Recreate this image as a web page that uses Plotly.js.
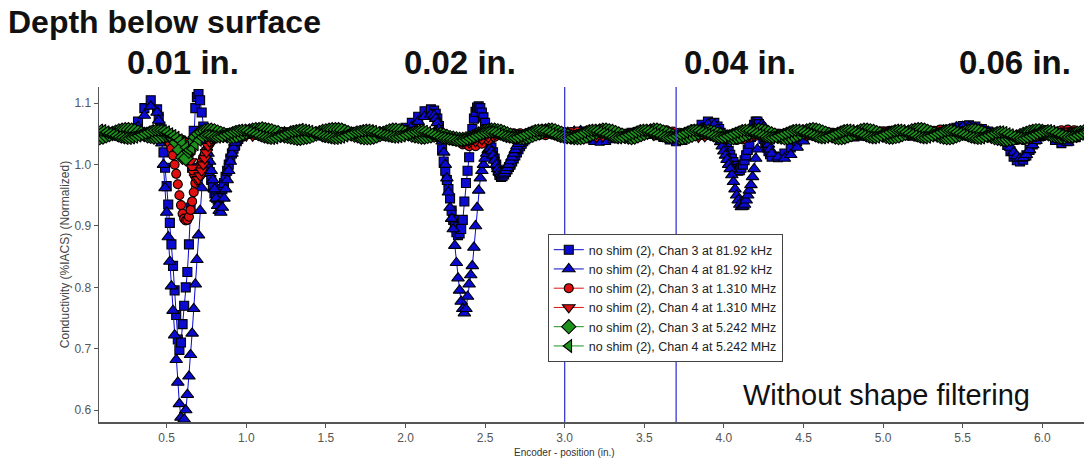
<!DOCTYPE html>
<html>
<head>
<meta charset="utf-8">
<script src="https://cdn.plot.ly/plotly-3.0.1.min.js"></script>
<style>html,body{margin:0;padding:0;background:#fff;}#chart{width:1084px;height:466px;}</style>
</head>
<body>
<div id="chart"></div>
<script>
// Encoder positions (in.) for the 81.92 kHz channels (denser sampling in the dips)
const xBlue = [
0.08,0.12,0.16,0.2,0.24,0.28,0.32,0.36,0.4,0.44,
0.45,0.46,0.47,0.48,0.49,0.5,0.51,0.52,0.53,0.54,0.55,0.56,0.57,0.58,0.59,0.6,0.61,0.62,0.63,0.64,0.65,0.66,0.67,0.68,0.69,0.7,0.71,0.72,0.73,0.74,0.75,0.76,0.77,0.78,0.79,0.8,0.81,0.82,0.83,0.84,0.85,0.86,0.87,0.88,0.89,0.9,0.91,0.92,0.93,0.94,0.95,0.96,0.97,0.98,0.99,1.0,
1.04,1.08,1.12,1.16,1.2,1.24,1.28,1.32,1.36,1.4,1.44,1.48,1.52,1.56,1.6,1.64,1.68,1.72,1.76,1.8,1.84,1.88,1.92,1.96,2.0,2.04,2.08,2.12,2.16,
2.18,2.19,2.2,2.21,2.22,2.23,2.24,2.25,2.26,2.27,2.28,2.29,2.3,2.31,2.32,2.33,2.34,2.35,2.36,2.37,2.38,2.39,2.4,2.41,2.42,2.43,2.44,2.45,2.46,2.47,2.48,2.49,2.5,2.51,2.52,2.53,2.54,2.55,2.56,2.57,2.58,2.59,2.6,2.61,2.62,2.63,2.64,2.65,2.66,2.67,2.68,2.69,2.7,2.71,2.72,2.73,2.74,2.75,2.76,2.77,2.78,
2.82,2.86,2.9,2.94,2.98,3.02,3.06,3.1,3.14,3.18,3.22,3.26,3.3,3.34,3.38,3.42,3.46,3.5,3.54,3.58,3.62,3.66,3.7,3.74,3.78,3.82,3.86,3.9,3.94,
3.96,3.97,3.98,3.99,4.0,4.01,4.02,4.03,4.04,4.05,4.06,4.07,4.08,4.09,4.1,4.11,4.12,4.13,4.14,4.15,4.16,4.17,4.18,4.19,4.2,4.21,4.22,4.23,4.24,4.25,4.26,4.27,4.28,4.29,4.3,
4.34,4.38,4.42,4.46,4.5,4.54,4.58,4.62,4.66,4.7,4.74,4.78,4.82,4.86,4.9,4.94,4.98,5.02,5.06,5.1,5.14,5.18,5.22,5.26,5.3,5.34,5.38,5.42,5.46,5.5,5.54,5.58,5.62,5.66,5.7,5.74,
5.76,5.78,5.8,5.82,5.84,5.86,5.88,5.9,5.92,5.94,5.96,5.98,6.0,
6.04,6.08,6.12,6.16,6.2,6.24,6.28
];

// Encoder positions (in.) for the 1.310 MHz channels
const xRed = [
0.08,0.12,0.16,0.2,0.24,0.28,0.32,0.36,0.4,0.44,
0.45,0.46,0.47,0.48,0.49,0.5,0.51,0.52,0.53,0.54,0.55,0.56,0.57,0.58,0.59,0.6,0.61,0.62,0.63,0.64,0.65,0.66,0.67,0.68,0.69,0.7,0.71,0.72,0.73,0.74,0.75,0.76,0.77,0.78,0.79,0.8,0.81,0.82,0.83,0.84,0.85,0.86,0.87,0.88,0.89,0.9,
0.92,0.96,1.0,
1.04,1.08,1.12,1.16,1.2,1.24,1.28,1.32,1.36,1.4,
1.44,1.48,1.52,1.56,1.6,1.64,1.68,1.72,1.76,1.8,
1.84,1.88,1.92,1.96,2.0,2.04,2.08,2.12,2.16,2.2,
2.24,2.28,2.32,2.36,2.4,2.44,2.48,2.52,2.56,2.6,
2.64,2.68,2.72,2.76,2.8,2.84,2.88,2.92,2.96,3.0,
3.04,3.08,3.12,3.16,3.2,3.24,3.28,3.32,3.36,3.4,
3.44,3.48,3.52,3.56,3.6,3.64,3.68,3.72,3.76,3.8,
3.84,3.88,3.92,3.96,4.0,4.04,4.08,4.12,4.16,4.2,
4.24,4.28,4.32,4.36,4.4,4.44,4.48,4.52,4.56,4.6,
4.64,4.68,4.72,4.76,4.8,4.84,4.88,4.92,4.96,5.0,
5.04,5.08,5.12,5.16,5.2,5.24,5.28,5.32,5.36,5.4,
5.44,5.48,5.52,5.56,5.6,5.64,5.68,5.72,5.76,5.8,
5.84,5.88,5.92,5.96,6.0,6.04,6.08,6.12,6.16,6.2,
6.24,6.28
];

// Encoder positions (in.) for the 5.242 MHz channels
const xGreen = [
0.08,0.1,0.12,0.14,0.16,0.18,0.2,0.22,0.24,0.26,
0.28,0.3,0.32,0.34,0.36,0.38,0.4,0.42,0.44,0.46,
0.48,0.5,0.52,0.54,0.56,0.58,0.6,0.62,0.64,0.66,
0.68,0.7,0.72,0.74,0.76,0.78,0.8,0.82,0.84,0.86,
0.88,0.9,0.92,0.94,0.96,0.98,1.0,1.02,1.04,1.06,
1.08,1.1,1.12,1.14,1.16,1.18,1.2,1.22,1.24,1.26,
1.28,1.3,1.32,1.34,1.36,1.38,1.4,1.42,1.44,1.46,
1.48,1.5,1.52,1.54,1.56,1.58,1.6,1.62,1.64,1.66,
1.68,1.7,1.72,1.74,1.76,1.78,1.8,1.82,1.84,1.86,
1.88,1.9,1.92,1.94,1.96,1.98,2.0,2.02,2.04,2.06,
2.08,2.1,2.12,2.14,2.16,2.18,2.2,2.22,2.24,2.26,
2.28,2.3,2.32,2.34,2.36,2.38,2.4,2.42,2.44,2.46,
2.48,2.5,2.52,2.54,2.56,2.58,2.6,2.62,2.64,2.66,
2.68,2.7,2.72,2.74,2.76,2.78,2.8,2.82,2.84,2.86,
2.88,2.9,2.92,2.94,2.96,2.98,3.0,3.02,3.04,3.06,
3.08,3.1,3.12,3.14,3.16,3.18,3.2,3.22,3.24,3.26,
3.28,3.3,3.32,3.34,3.36,3.38,3.4,3.42,3.44,3.46,
3.48,3.5,3.52,3.54,3.56,3.58,3.6,3.62,3.64,3.66,
3.68,3.7,3.72,3.74,3.76,3.78,3.8,3.82,3.84,3.86,
3.88,3.9,3.92,3.94,3.96,3.98,4.0,4.02,4.04,4.06,
4.08,4.1,4.12,4.14,4.16,4.18,4.2,4.22,4.24,4.26,
4.28,4.3,4.32,4.34,4.36,4.38,4.4,4.42,4.44,4.46,
4.48,4.5,4.52,4.54,4.56,4.58,4.6,4.62,4.64,4.66,
4.68,4.7,4.72,4.74,4.76,4.78,4.8,4.82,4.84,4.86,
4.88,4.9,4.92,4.94,4.96,4.98,5.0,5.02,5.04,5.06,
5.08,5.1,5.12,5.14,5.16,5.18,5.2,5.22,5.24,5.26,
5.28,5.3,5.32,5.34,5.36,5.38,5.4,5.42,5.44,5.46,
5.48,5.5,5.52,5.54,5.56,5.58,5.6,5.62,5.64,5.66,
5.68,5.7,5.72,5.74,5.76,5.78,5.8,5.82,5.84,5.86,
5.88,5.9,5.92,5.94,5.96,5.98,6.0,6.02,6.04,6.06,
6.08,6.1,6.12,6.14,6.16,6.18,6.2,6.22,6.24,6.26,
6.28
];

// Chan 3 at 81.92 kHz
const ch3_8192k = [
1.048,1.05,1.052,1.051,1.05,1.055,1.07,1.092,1.105,1.09,
1.078,1.062,1.042,1.02,0.995,0.965,0.935,0.905,0.87,0.835,0.795,0.755,0.715,0.698,0.71,0.74,0.77,0.8,0.825,0.87,0.93,0.995,1.055,1.092,1.11,1.115,1.105,1.085,1.062,1.04,1.02,1.003,0.988,0.975,0.963,0.953,0.946,0.943,0.945,0.951,0.96,0.97,0.98,0.99,1.0,1.01,1.018,1.026,1.033,1.038,1.042,1.046,1.048,1.05,1.051,1.052,
1.053,1.055,1.056,1.055,1.053,1.05,1.048,1.046,1.046,1.047,1.049,1.051,1.053,1.054,1.054,1.053,1.051,1.049,1.048,1.048,1.05,1.052,1.054,1.056,1.06,1.068,1.078,1.087,1.09,
1.088,1.083,1.075,1.063,1.045,1.025,1.005,0.99,0.975,0.96,0.945,0.925,0.91,0.898,0.89,0.885,0.888,0.895,0.91,0.94,0.97,0.99,1.012,1.035,1.058,1.075,1.086,1.093,1.095,1.092,1.085,1.077,1.068,1.058,1.048,1.038,1.028,1.02,1.01,1.0,0.99,0.983,0.98,0.981,0.984,0.988,0.992,0.996,1.0,1.005,1.01,1.015,1.02,1.025,1.03,1.034,1.038,1.041,1.044,1.046,1.048,
1.05,1.052,1.053,1.054,1.053,1.051,1.049,1.046,1.043,1.04,1.039,1.04,1.043,1.047,1.05,1.052,1.053,1.052,1.05,1.048,1.045,1.041,1.038,1.04,1.047,1.057,1.065,1.07,1.068,
1.062,1.058,1.052,1.046,1.04,1.034,1.028,1.022,1.016,1.01,1.004,0.998,0.993,0.99,0.991,0.995,1.0,1.007,1.015,1.024,1.034,1.045,1.056,1.065,1.07,1.07,1.066,1.058,1.05,1.042,1.035,1.028,1.022,1.017,1.013,
1.012,1.018,1.028,1.038,1.045,1.05,1.052,1.053,1.052,1.05,1.048,1.046,1.046,1.047,1.049,1.051,1.053,1.054,1.053,1.051,1.049,1.047,1.046,1.046,1.047,1.049,1.051,1.055,1.06,1.063,1.064,1.062,1.058,1.054,1.05,1.045,
1.04,1.032,1.022,1.013,1.007,1.005,1.008,1.015,1.024,1.033,1.041,1.046,1.049,
1.048,1.04,1.035,1.038,1.046,1.05,1.051
];

// Chan 4 at 81.92 kHz
const ch4_8192k = [
1.05,1.047,1.049,1.052,1.05,1.052,1.062,1.08,1.095,1.085,
1.072,1.058,1.035,1.0,0.962,0.922,0.882,0.842,0.802,0.762,0.722,0.682,0.645,0.61,0.588,0.58,0.585,0.6,0.625,0.655,0.69,0.725,0.765,0.805,0.845,0.885,0.925,0.962,0.995,1.015,1.022,1.018,1.005,0.99,0.975,0.96,0.945,0.933,0.925,0.922,0.93,0.945,0.96,0.975,0.99,1.005,1.018,1.028,1.036,1.042,1.046,1.049,1.05,1.05,1.049,1.048,
1.047,1.046,1.047,1.049,1.051,1.053,1.054,1.054,1.053,1.051,1.049,1.047,1.046,1.046,1.047,1.049,1.051,1.053,1.054,1.054,1.053,1.052,1.052,1.053,1.056,1.062,1.07,1.078,1.082,
1.08,1.075,1.068,1.058,1.048,1.038,1.02,1.0,0.978,0.955,0.93,0.912,0.895,0.868,0.84,0.815,0.795,0.777,0.765,0.758,0.765,0.785,0.805,0.82,0.835,0.865,0.9,0.93,0.958,0.978,0.99,1.0,1.01,1.018,1.024,1.026,1.022,1.015,1.007,1.0,0.993,0.988,0.985,0.984,0.986,0.99,0.995,1.0,1.006,1.012,1.018,1.024,1.03,1.034,1.038,1.042,1.045,1.047,1.049,1.05,1.051,
1.051,1.05,1.049,1.049,1.05,1.052,1.054,1.055,1.054,1.052,1.05,1.048,1.046,1.045,1.046,1.048,1.05,1.051,1.051,1.05,1.048,1.045,1.042,1.041,1.044,1.052,1.06,1.066,1.065,
1.058,1.048,1.037,1.03,1.022,1.015,1.008,1.0,0.993,0.983,0.972,0.96,0.95,0.942,0.935,0.931,0.932,0.935,0.942,0.95,0.958,0.967,0.98,0.993,1.01,1.025,1.045,1.06,1.066,1.062,1.052,1.042,1.033,1.025,1.018,
1.012,1.01,1.016,1.028,1.038,1.045,1.049,1.05,1.05,1.049,1.048,1.048,1.049,1.051,1.053,1.054,1.053,1.051,1.049,1.047,1.046,1.046,1.048,1.05,1.052,1.054,1.056,1.058,1.061,1.062,1.062,1.06,1.057,1.054,1.05,1.046,
1.042,1.036,1.028,1.02,1.014,1.01,1.011,1.016,1.024,1.032,1.039,1.044,1.047,
1.05,1.045,1.038,1.036,1.042,1.048,1.05
];

// Chan 3 at 1.310 MHz
const ch3_1310 = [
1.046,1.048,1.05,1.052,1.053,1.052,1.05,1.048,1.047,1.046,
1.046,1.045,1.044,1.043,1.042,1.04,1.038,1.035,1.026,1.015,1.0,0.985,0.968,0.95,0.934,0.92,0.912,0.909,0.91,0.915,0.926,0.94,0.955,0.97,0.981,0.99,0.998,1.005,1.012,1.018,1.024,1.03,1.034,1.038,1.041,1.043,1.045,1.046,1.047,1.048,1.049,1.049,1.05,1.05,1.051,1.051,
1.052,1.053,1.054,
1.054,1.053,1.051,1.049,1.047,1.046,1.046,1.047,1.049,1.051,
1.053,1.054,1.054,1.052,1.05,1.048,1.047,1.047,1.048,1.05,
1.052,1.053,1.053,1.052,1.05,1.049,1.048,1.048,1.049,1.05,
1.048,1.044,1.038,1.033,1.03,1.03,1.034,1.04,1.045,1.048,
1.05,1.051,1.051,1.05,1.049,1.048,1.048,1.049,1.05,1.052,
1.053,1.054,1.054,1.053,1.052,1.05,1.049,1.048,1.048,1.05,
1.052,1.054,1.056,1.057,1.057,1.056,1.054,1.052,1.05,1.048,
1.047,1.047,1.048,1.047,1.045,1.042,1.04,1.041,1.044,1.047,
1.049,1.05,1.05,1.049,1.048,1.048,1.049,1.05,1.051,1.052,
1.052,1.051,1.05,1.049,1.048,1.048,1.049,1.05,1.052,1.054,
1.055,1.055,1.054,1.052,1.05,1.05,1.052,1.055,1.057,1.057,
1.056,1.054,1.052,1.05,1.048,1.047,1.047,1.046,1.044,1.042,
1.04,1.04,1.042,1.045,1.048,1.051,1.054,1.056,1.057,1.056,
1.054,1.052
];

// Chan 4 at 1.310 MHz
const ch4_1310 = [
1.052,1.05,1.048,1.047,1.048,1.05,1.052,1.054,1.053,1.051,
1.05,1.049,1.048,1.047,1.047,1.046,1.046,1.045,1.045,1.044,1.044,1.043,1.043,1.042,1.04,1.038,1.034,1.03,1.023,1.015,1.005,0.995,0.986,0.979,0.975,0.976,0.982,0.99,1.0,1.01,1.02,1.03,1.037,1.042,1.045,1.048,1.049,1.05,1.051,1.051,1.052,1.052,1.052,1.051,1.051,1.05,
1.05,1.048,1.047,
1.047,1.048,1.05,1.052,1.054,1.055,1.055,1.054,1.052,1.05,
1.048,1.046,1.046,1.047,1.049,1.051,1.053,1.054,1.054,1.053,
1.051,1.049,1.048,1.048,1.049,1.051,1.052,1.052,1.051,1.049,
1.046,1.043,1.04,1.037,1.036,1.038,1.041,1.045,1.049,1.051,
1.052,1.052,1.051,1.05,1.05,1.051,1.052,1.053,1.053,1.052,
1.05,1.048,1.046,1.045,1.045,1.046,1.048,1.05,1.052,1.053,
1.053,1.052,1.05,1.048,1.047,1.047,1.048,1.049,1.048,1.046,
1.045,1.046,1.049,1.051,1.049,1.045,1.043,1.044,1.047,1.05,
1.052,1.053,1.053,1.052,1.05,1.049,1.048,1.048,1.049,1.05,
1.051,1.052,1.052,1.051,1.05,1.049,1.049,1.05,1.051,1.052,
1.052,1.051,1.05,1.049,1.049,1.05,1.051,1.053,1.054,1.055,
1.055,1.054,1.053,1.051,1.049,1.047,1.045,1.044,1.044,1.045,
1.044,1.044,1.045,1.047,1.049,1.051,1.053,1.054,1.055,1.055,
1.054,1.053
];

// Chan 3 at 5.242 MHz
const ch3_5242 = [
1.044,1.045,1.047,1.049,1.051,1.053,1.055,1.056,1.057,1.057,
1.056,1.055,1.053,1.051,1.049,1.047,1.046,1.045,1.045,1.046,
1.047,1.048,1.047,1.044,1.036,1.024,1.012,1.01,1.022,1.036,
1.045,1.05,1.053,1.055,1.056,1.056,1.055,1.053,1.051,1.049,
1.047,1.046,1.046,1.047,1.049,1.051,1.053,1.055,1.056,1.057,
1.057,1.058,1.057,1.056,1.055,1.053,1.052,1.049,1.047,1.046,
1.045,1.044,1.043,1.043,1.044,1.045,1.046,1.048,1.05,1.052,
1.054,1.055,1.056,1.057,1.057,1.057,1.056,1.054,1.052,1.05,
1.048,1.047,1.045,1.044,1.044,1.044,1.045,1.047,1.049,1.051,
1.053,1.055,1.056,1.056,1.055,1.054,1.052,1.05,1.048,1.047,
1.046,1.045,1.045,1.046,1.047,1.048,1.049,1.049,1.048,1.046,
1.044,1.043,1.042,1.041,1.041,1.042,1.043,1.045,1.047,1.05,
1.052,1.054,1.055,1.056,1.056,1.055,1.054,1.052,1.05,1.048,
1.046,1.045,1.044,1.044,1.045,1.046,1.048,1.05,1.052,1.054,
1.055,1.056,1.056,1.055,1.053,1.051,1.049,1.047,1.045,1.044,
1.044,1.044,1.045,1.047,1.049,1.051,1.053,1.055,1.056,1.056,
1.055,1.054,1.052,1.05,1.048,1.046,1.045,1.044,1.045,1.047,
1.049,1.051,1.053,1.055,1.056,1.056,1.055,1.053,1.051,1.049,
1.047,1.045,1.044,1.044,1.045,1.046,1.048,1.05,1.052,1.053,
1.054,1.054,1.053,1.052,1.05,1.048,1.046,1.045,1.044,1.044,
1.045,1.046,1.048,1.05,1.052,1.054,1.055,1.056,1.055,1.054,
1.052,1.05,1.048,1.046,1.045,1.044,1.044,1.045,1.047,1.049,
1.051,1.053,1.055,1.056,1.057,1.056,1.055,1.053,1.051,1.049,
1.047,1.045,1.044,1.044,1.045,1.047,1.049,1.051,1.053,1.055,
1.056,1.056,1.055,1.054,1.052,1.05,1.048,1.046,1.045,1.045,
1.046,1.047,1.049,1.051,1.053,1.055,1.056,1.057,1.057,1.056,
1.054,1.052,1.05,1.048,1.046,1.045,1.044,1.044,1.045,1.047,
1.049,1.051,1.053,1.054,1.055,1.055,1.054,1.052,1.05,1.048,
1.046,1.044,1.043,1.042,1.041,1.041,1.042,1.043,1.045,1.047,
1.049,1.051,1.053,1.054,1.055,1.055,1.054,1.052,1.05,1.048,
1.047,1.046,1.045,1.045,1.046,1.047,1.049,1.051,1.052,1.053,
1.054
];

// Chan 4 at 5.242 MHz
const ch4_5242 = [
1.056,1.055,1.053,1.051,1.049,1.047,1.045,1.044,1.043,1.043,
1.044,1.045,1.047,1.049,1.051,1.053,1.055,1.056,1.056,1.056,
1.055,1.053,1.05,1.047,1.044,1.04,1.035,1.028,1.024,1.026,
1.033,1.04,1.045,1.047,1.047,1.046,1.045,1.045,1.046,1.048,
1.05,1.052,1.054,1.055,1.056,1.056,1.055,1.053,1.051,1.049,
1.047,1.045,1.044,1.043,1.043,1.044,1.046,1.048,1.05,1.052,
1.054,1.055,1.056,1.057,1.056,1.055,1.054,1.052,1.05,1.048,
1.046,1.045,1.044,1.043,1.043,1.044,1.045,1.047,1.049,1.051,
1.053,1.054,1.055,1.056,1.056,1.055,1.054,1.052,1.05,1.048,
1.047,1.046,1.045,1.045,1.046,1.047,1.049,1.051,1.053,1.054,
1.055,1.055,1.054,1.052,1.05,1.048,1.046,1.044,1.043,1.042,
1.041,1.04,1.039,1.039,1.04,1.041,1.043,1.045,1.047,1.049,
1.051,1.052,1.053,1.053,1.052,1.05,1.048,1.046,1.045,1.044,
1.044,1.045,1.047,1.049,1.051,1.053,1.055,1.056,1.056,1.055,
1.054,1.052,1.05,1.048,1.046,1.045,1.044,1.044,1.045,1.047,
1.049,1.051,1.053,1.055,1.056,1.056,1.055,1.053,1.051,1.049,
1.047,1.045,1.044,1.044,1.045,1.047,1.049,1.051,1.053,1.055,
1.056,1.056,1.055,1.053,1.051,1.049,1.047,1.045,1.044,1.044,
1.045,1.047,1.049,1.051,1.053,1.055,1.056,1.056,1.055,1.053,
1.051,1.049,1.047,1.045,1.044,1.044,1.045,1.047,1.049,1.051,
1.053,1.055,1.056,1.056,1.055,1.053,1.051,1.049,1.047,1.045,
1.044,1.044,1.045,1.047,1.049,1.051,1.053,1.055,1.056,1.056,
1.055,1.053,1.051,1.049,1.047,1.045,1.044,1.044,1.045,1.047,
1.049,1.051,1.053,1.055,1.056,1.056,1.055,1.053,1.051,1.049,
1.047,1.045,1.044,1.044,1.045,1.047,1.049,1.051,1.053,1.055,
1.056,1.056,1.055,1.053,1.051,1.049,1.047,1.045,1.044,1.044,
1.045,1.047,1.049,1.051,1.053,1.055,1.056,1.056,1.055,1.053,
1.051,1.049,1.047,1.045,1.044,1.043,1.043,1.044,1.046,1.048,
1.05,1.052,1.053,1.053,1.052,1.05,1.048,1.046,1.044,1.043,
1.043,1.044,1.046,1.048,1.05,1.052,1.054,1.055,1.055,1.054,
1.052,1.05,1.048,1.046,1.045,1.045,1.046,1.048,1.05,1.052,
1.053
];

const seriesNames = [
  'no shim (2), Chan 3 at 81.92 kHz',
  'no shim (2), Chan 4 at 81.92 kHz',
  'no shim (2), Chan 3 at 1.310 MHz',
  'no shim (2), Chan 4 at 1.310 MHz',
  'no shim (2), Chan 3 at 5.242 MHz',
  'no shim (2), Chan 4 at 5.242 MHz'
];
const depthLabels = ['0.01 in.', '0.02 in.', '0.04 in.', '0.06 in.'];
const depthPositions = [0.6, 2.34, 4.1, 5.83];
const markerLines = [3.0, 3.7];
const xTickVals = [0.5,1.0,1.5,2.0,2.5,3.0,3.5,4.0,4.5,5.0,5.5,6.0];
const xTickText = ['0.5','1.0','1.5','2.0','2.5','3.0','3.5','4.0','4.5','5.0','5.5','6.0'];
const yTickVals = [0.6,0.7,0.8,0.9,1.0,1.1];
const yTickText = ['0.6','0.7','0.8','0.9','1.0','1.1'];

const seriesData = [
  {x: xBlue, y: ch3_8192k, color: '#0a0ad0', symbol: 'square', size: 9},
  {x: xBlue, y: ch4_8192k, color: '#0a0ad0', symbol: 'triangle-up', size: 11},
  {x: xRed, y: ch3_1310, color: '#e01010', symbol: 'circle', size: 9},
  {x: xRed, y: ch4_1310, color: '#e01010', symbol: 'triangle-down', size: 11},
  {x: xGreen, y: ch3_5242, color: '#1c921c', symbol: 'diamond', size: 11},
  {x: xGreen, y: ch4_5242, color: '#1c921c', symbol: 'triangle-left', size: 11}
];
seriesData.forEach((s, i) => {
  if (s.x.length !== s.y.length) throw new Error('length mismatch ' + i + ': ' + s.x.length + ' vs ' + s.y.length);
});

const traces = seriesData.map((s, i) => ({
  type: 'scatter',
  mode: 'lines+markers',
  name: seriesNames[i],
  x: s.x,
  y: s.y,
  line: {color: s.color, width: 1},
  marker: {symbol: s.symbol, size: s.size, color: s.color, line: {color: '#000', width: 1.1}}
}));

const font = 'Liberation Sans, Arial, sans-serif';
const annotations = [
  {text: '<b>Depth below surface</b>', xref: 'paper', yref: 'paper', x: -0.0944, y: 1.194,
   xanchor: 'left', yanchor: 'middle', showarrow: false, font: {size: 32, color: '#111', family: font}},
  {text: 'Without shape filtering', xref: 'paper', yref: 'paper', x: 0.6518, y: 0.082,
   xanchor: 'left', yanchor: 'middle', showarrow: false, font: {size: 29, color: '#111', family: font}},
  {text: 'Encoder - position (in.)', xref: 'paper', yref: 'paper', x: 0.473, y: -0.091,
   xanchor: 'center', yanchor: 'middle', showarrow: false, font: {size: 10, color: '#333', family: font}}
].concat(depthLabels.map((t, i) => ({
  text: '<b>' + t + '</b>', xref: 'x', yref: 'paper', x: depthPositions[i], y: 1.0745,
  xanchor: 'center', yanchor: 'middle', showarrow: false, font: {size: 33, color: '#111', family: font}
})));

const shapes = markerLines.map(v => ({
  type: 'line', xref: 'x', yref: 'paper', x0: v, x1: v, y0: 0, y1: 1,
  line: {color: '#3a3ad0', width: 1.3}
}));

const layout = {
  width: 1084, height: 466,
  margin: {l: 99, r: 0, t: 87, b: 43.5},
  paper_bgcolor: '#fff', plot_bgcolor: '#fff',
  font: {family: font, color: '#444', size: 12},
  showlegend: true,
  legend: {x: 0.4556, y: 0.561, xanchor: 'left', yanchor: 'top', bgcolor: '#fff',
    bordercolor: '#444', borderwidth: 1, font: {size: 12.5, color: '#222', family: font},
    tracegroupgap: 0, itemwidth: 30},
  xaxis: {range: [0.075, 6.262], tickvals: xTickVals, ticktext: xTickText, ticks: 'outside', ticklen: 4,
    tickcolor: '#555', showline: true, linecolor: '#555', linewidth: 1.5, showgrid: false, zeroline: false,
    tickfont: {size: 12, color: '#555'}},
  yaxis: {range: [0.5805, 1.1265], tickvals: yTickVals, ticktext: yTickText, ticks: 'outside', ticklen: 4,
    tickcolor: '#555', showline: true, linecolor: '#555', linewidth: 1.5, showgrid: false, zeroline: false,
    tickfont: {size: 12, color: '#555'},
    title: {text: 'Conductivity (%IACS) (Normalized)', font: {size: 12, color: '#444'}, standoff: 2}},
  annotations: annotations,
  shapes: shapes
};

Plotly.newPlot('chart', traces, layout, {displayModeBar: false, staticPlot: true});
</script>
</body>
</html>
